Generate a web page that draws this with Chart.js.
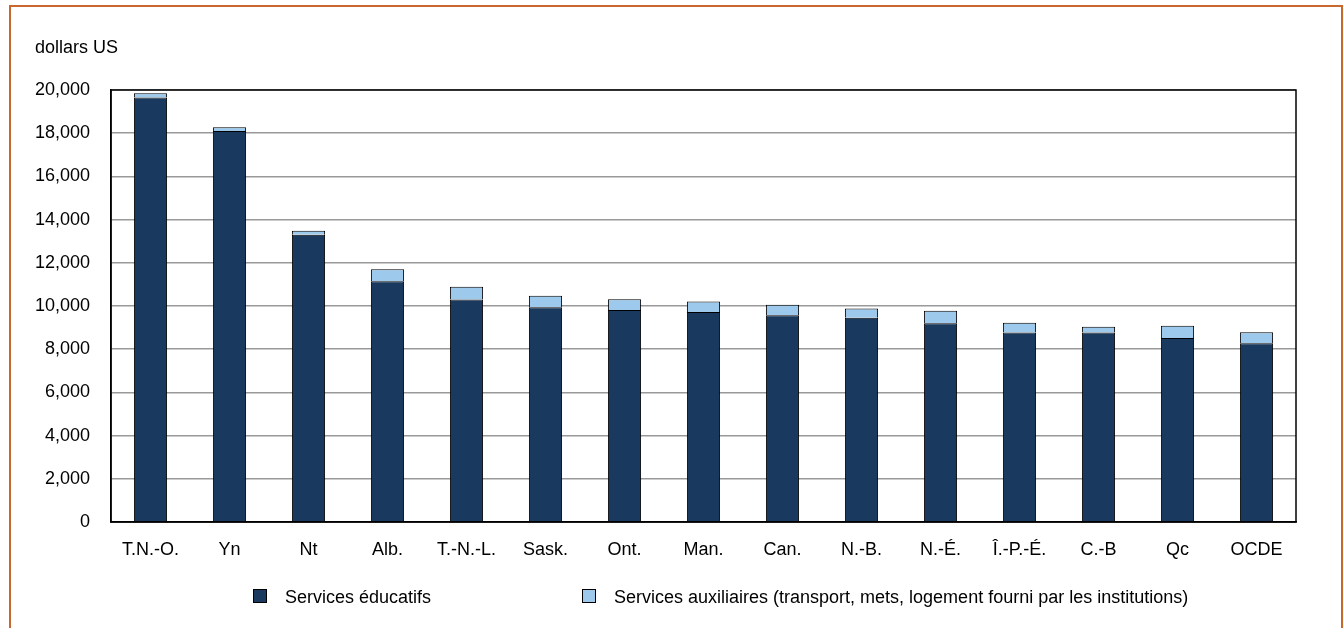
<!DOCTYPE html>
<html lang="fr">
<head>
<meta charset="utf-8">
<script src="https://cdn.jsdelivr.net/npm/chart.js@4/dist/chart.umd.min.js"></script>
<style>
  html, body { margin: 0; padding: 0; background: #fff; }
  body { width: 1343px; height: 628px; position: relative; overflow: hidden;
         font-family: "Liberation Sans", Arial, sans-serif; color: #000; }
  #frame { position: absolute; left: 9px; top: 5px; width: 1330px; height: 640px;
           border: 2px solid #c8682e; }
  #chartWrap { position: absolute; left: 0; top: 0; width: 1343px; height: 628px; }
  #unit { position: absolute; left: 35px; top: 37px; font-size: 18px; }
  .legend { position: absolute; top: 587px; font-size: 18px; line-height: 20px; white-space: nowrap; }
  .legend .box { display: inline-block; width: 12px; height: 12px; border: 1px solid #000;
                 vertical-align: middle; margin-right: 18px; position: relative; top: -2px; }
</style>
</head>
<body>
<div id="frame"></div>
<div id="chartWrap"><canvas id="chart" width="1343" height="628"></canvas></div>
<div id="unit">dollars US</div>
<div class="legend" style="left:253px"><span class="box" style="background:#1a395f"></span>Services éducatifs</div>
<div class="legend" style="left:582px"><span class="box" style="background:#9dcaec"></span>Services auxiliaires (transport, mets, logement fourni par les institutions)</div>
<script>
  // Data (US dollars)
  const categories = ['T.N.-O.', 'Yn', 'Nt', 'Alb.', 'T.-N.-L.', 'Sask.', 'Ont.', 'Man.', 'Can.', 'N.-B.', 'N.-É.', 'Î.-P.-É.', 'C.-B', 'Qc', 'OCDE'];
  const educatifs = [19650, 18100, 13300, 11150, 10300, 9940, 9820, 9720, 9570, 9460, 9200, 8770, 8770, 8520, 8270];
  const auxiliaires = [200, 180, 180, 550, 590, 540, 490, 490, 490, 430, 580, 450, 270, 570, 510];
  const yTicks = [0, 2000, 4000, 6000, 8000, 10000, 12000, 14000, 16000, 18000, 20000];

  const fontSpec = { family: '"Liberation Sans", Arial, sans-serif', size: 18 };

  // black frame around the plot area
  const plotBorder = {
    id: 'plotBorder',
    afterDraw(chart) {
      const { ctx, chartArea: a } = chart;
      ctx.save();
      ctx.strokeStyle = '#000';
      ctx.lineWidth = 1.5;
      ctx.strokeRect(a.left, a.top, a.right - a.left, a.bottom - a.top);
      ctx.restore();
    }
  };

  new Chart(document.getElementById('chart').getContext('2d'), {
    type: 'bar',
    data: {
      labels: categories,
      datasets: [
        {
          label: 'Services éducatifs',
          data: educatifs,
          backgroundColor: '#1a395f',
          borderColor: '#000',
          borderWidth: 1,
          barPercentage: 0.42,
          categoryPercentage: 1
        },
        {
          label: 'Services auxiliaires (transport, mets, logement fourni par les institutions)',
          data: auxiliaires,
          backgroundColor: '#9dcaec',
          borderColor: '#000',
          borderWidth: 1,
          barPercentage: 0.42,
          categoryPercentage: 1
        }
      ]
    },
    options: {
      responsive: false,
      animation: false,
      layout: { padding: { top: 90, right: 47, left: 0, bottom: 0 } },
      plugins: {
        legend: { display: false },
        tooltip: { enabled: false }
      },
      scales: {
        x: {
          stacked: true,
          grid: { display: false, drawTicks: false },
          border: { color: '#000', width: 1.5 },
          ticks: { color: '#000', font: fontSpec, padding: 17, maxRotation: 0, autoSkip: false },
          afterFit: s => { s.height = 106; }
        },
        y: {
          stacked: true,
          min: 0,
          max: 20000,
          afterBuildTicks: s => { s.ticks = yTicks.map(v => ({ value: v })); },
          grid: { color: '#999999', lineWidth: 1.5, drawTicks: false },
          border: { color: '#000', width: 1.5 },
          ticks: {
            color: '#000', font: fontSpec, padding: 21,
            callback: v => v.toLocaleString('en-US')
          },
          afterFit: s => { s.width = 111; }
        }
      }
    },
    plugins: [plotBorder]
  });
</script>
</body>
</html>
